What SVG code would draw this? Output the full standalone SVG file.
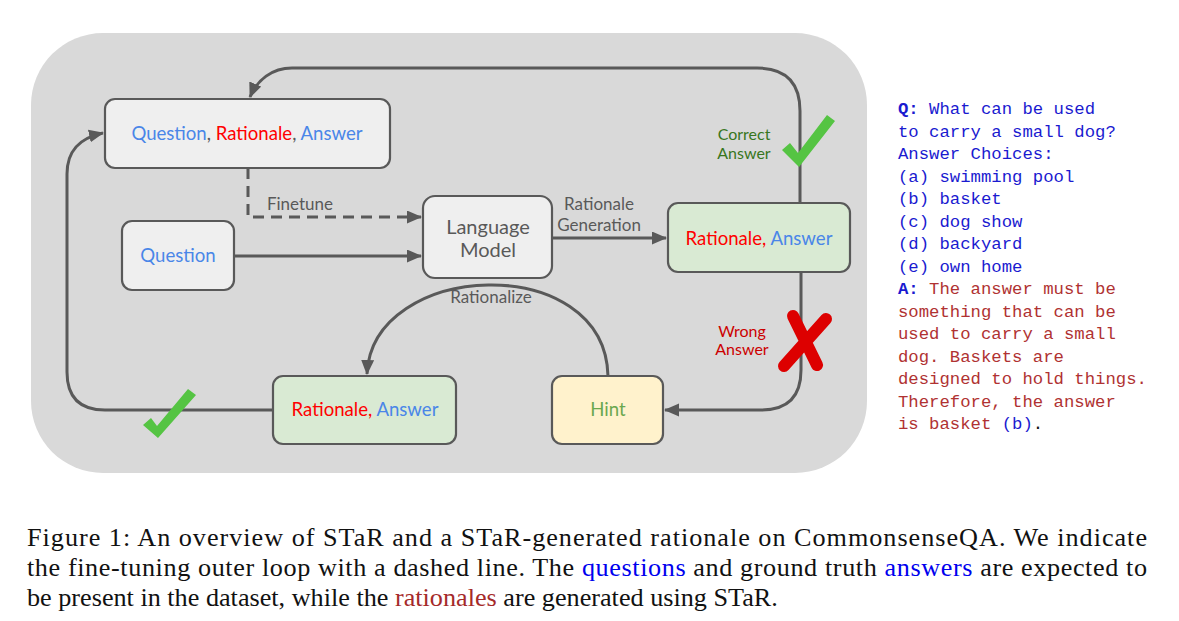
<svg xmlns="http://www.w3.org/2000/svg" width="1179" height="621" viewBox="0 0 1179 621">
<style>
.box{stroke:#595959;stroke-width:2.2}
.t{font-family:Lato,"Noto Sans",sans-serif;font-size:18.6px;text-anchor:middle}
.lbl{font-family:Lato,"Noto Sans",sans-serif;font-size:17px;text-anchor:middle}
.lbl2{font-family:Lato,"Noto Sans",sans-serif;font-size:16px;text-anchor:middle}
.blue{fill:#4a86e8}.red{fill:#ff0000}.gray{fill:#595959}
.edge{fill:none;stroke:#595959;stroke-width:3}
.mono{font-family:"Liberation Mono","DejaVu Sans Mono",monospace;font-size:17.3px}
.qb{fill:#1a1ad0}.ar{fill:#b03232}.b{font-weight:bold}
.cap{font-family:"Liberation Serif","Times New Roman",serif;font-size:26.2px;fill:#111}
</style>
<defs>
<marker id="ah" markerUnits="userSpaceOnUse" markerWidth="16" markerHeight="14" refX="14" refY="6.5" orient="auto">
<path d="M0,0 L15,6.5 L0,13 Z" fill="#595959"/>
</marker>
</defs>
<rect x="31" y="33" width="836" height="440" rx="72" fill="#d9d9d9"/>
<g id="connectors">
<path class="edge" d="M800 203 L800 111 Q800 68 757 68 L292 68 C272 68 257 80 250 97" marker-end="url(#ah)"/>
<path class="edge" d="M273 410 L105 410 Q67 410 67 372 L67 174 C67 150 80 138 103 133" marker-end="url(#ah)"/>
<path class="edge" d="M248 168 L248 217 L421 217" stroke-dasharray="11 7" marker-end="url(#ah)"/>
<path class="edge" d="M234 256 L421 256" marker-end="url(#ah)"/>
<path class="edge" d="M552 238 L666 238" marker-end="url(#ah)"/>
<path class="edge" d="M801 272 L801 370 Q801 410 761 410 L665 410" marker-end="url(#ah)"/>
<path class="edge" d="M608 376 C605 250 372 260 367 374" marker-end="url(#ah)"/>
<text class="lbl gray" x="300" y="210">Finetune</text>
<text class="lbl gray" x="599" y="210">Rationale</text>
<text class="lbl gray" x="599" y="231">Generation</text>
<text class="lbl gray" x="491" y="303">Rationalize</text>
<text class="lbl2" x="744" y="140" fill="#38761d">Correct</text>
<text class="lbl2" x="744" y="159" fill="#38761d">Answer</text>
<text class="lbl2" x="742" y="337" fill="#cc0000">Wrong</text>
<text class="lbl2" x="742" y="355" fill="#cc0000">Answer</text>
<path d="M782 150 L790 143 L798 153 L827 115 L835 121 L799 167 Z" fill="#55c443"/>
<path d="M143 425 L151 418 L157 426 L188 389 L196 395 L158 438 Z" fill="#55c443"/>
<path d="M793 316 L817 365 M826 319 L784 366" stroke="#dd0000" stroke-width="12" stroke-linecap="round" fill="none"/>
</g>
<g id="qra">
<rect class="box" x="105" y="99" width="285" height="69" rx="10" fill="#efefef"/>
<text class="t" x="247" y="140"><tspan class="blue">Question</tspan><tspan class="gray">, </tspan><tspan class="red">Rationale</tspan><tspan class="gray">, </tspan><tspan class="blue">Answer</tspan></text>
</g>
<g id="question">
<rect class="box" x="122" y="221" width="112" height="69" rx="10" fill="#efefef"/>
<text class="t blue" x="178" y="262">Question</text>
</g>
<g id="lm">
<rect class="box" x="423" y="196" width="129" height="82" rx="12" fill="#efefef"/>
<text class="t gray" x="488" y="234" style="font-size:20px">Language</text>
<text class="t gray" x="488" y="257" style="font-size:20px">Model</text>
</g>
<g id="ra-top">
<rect class="box" x="668" y="203" width="182" height="69" rx="10" fill="#d9ead3"/>
<text class="t" x="759" y="245"><tspan class="red">Rationale, </tspan><tspan class="blue">Answer</tspan></text>
</g>
<g id="ra-bottom">
<rect class="box" x="273" y="376" width="183" height="68" rx="10" fill="#d9ead3"/>
<text class="t" x="365" y="416"><tspan class="red">Rationale, </tspan><tspan class="blue">Answer</tspan></text>
</g>
<g id="hint">
<rect class="box" x="552" y="376" width="111" height="68" rx="10" fill="#fff2cc"/>
<text class="t" x="608" y="416" fill="#6aa84f">Hint</text>
</g>
<g id="example">
<text class="mono qb" x="898" y="114"><tspan class="b">Q:</tspan> What can be used</text>
<text class="mono qb" x="898" y="136.5">to carry a small dog?</text>
<text class="mono qb" x="898" y="159">Answer Choices:</text>
<text class="mono qb" x="898" y="181.5">(a) swimming pool</text>
<text class="mono qb" x="898" y="204">(b) basket</text>
<text class="mono qb" x="898" y="226.5">(c) dog show</text>
<text class="mono qb" x="898" y="249">(d) backyard</text>
<text class="mono qb" x="898" y="271.5">(e) own home</text>
<text class="mono" x="898" y="294"><tspan class="qb b">A:</tspan><tspan class="ar"> The answer must be</tspan></text>
<text class="mono ar" x="898" y="316.5">something that can be</text>
<text class="mono ar" x="898" y="339">used to carry a small</text>
<text class="mono ar" x="898" y="361.5">dog. Baskets are</text>
<text class="mono ar" x="898" y="384">designed to hold things.</text>
<text class="mono ar" x="898" y="406.5">Therefore, the answer</text>
<text class="mono" x="898" y="429"><tspan class="ar">is basket </tspan><tspan class="qb">(b)</tspan><tspan fill="#111">.</tspan></text>
</g>
<g id="caption">
<text class="cap" x="27" y="546" textLength="1120" lengthAdjust="spacing">Figure 1: An overview of STaR and a STaR-generated rationale on CommonsenseQA. We indicate</text>
<text class="cap" x="27" y="576" textLength="1120" lengthAdjust="spacing">the fine-tuning outer loop with a dashed line. The <tspan fill="#0000ee">questions</tspan> and ground truth <tspan fill="#0000ee">answers</tspan> are expected to</text>
<text class="cap" x="27" y="606">be present in the dataset, while the <tspan fill="#a52a2a">rationales</tspan> are generated using STaR.</text>
</g>
</svg>
